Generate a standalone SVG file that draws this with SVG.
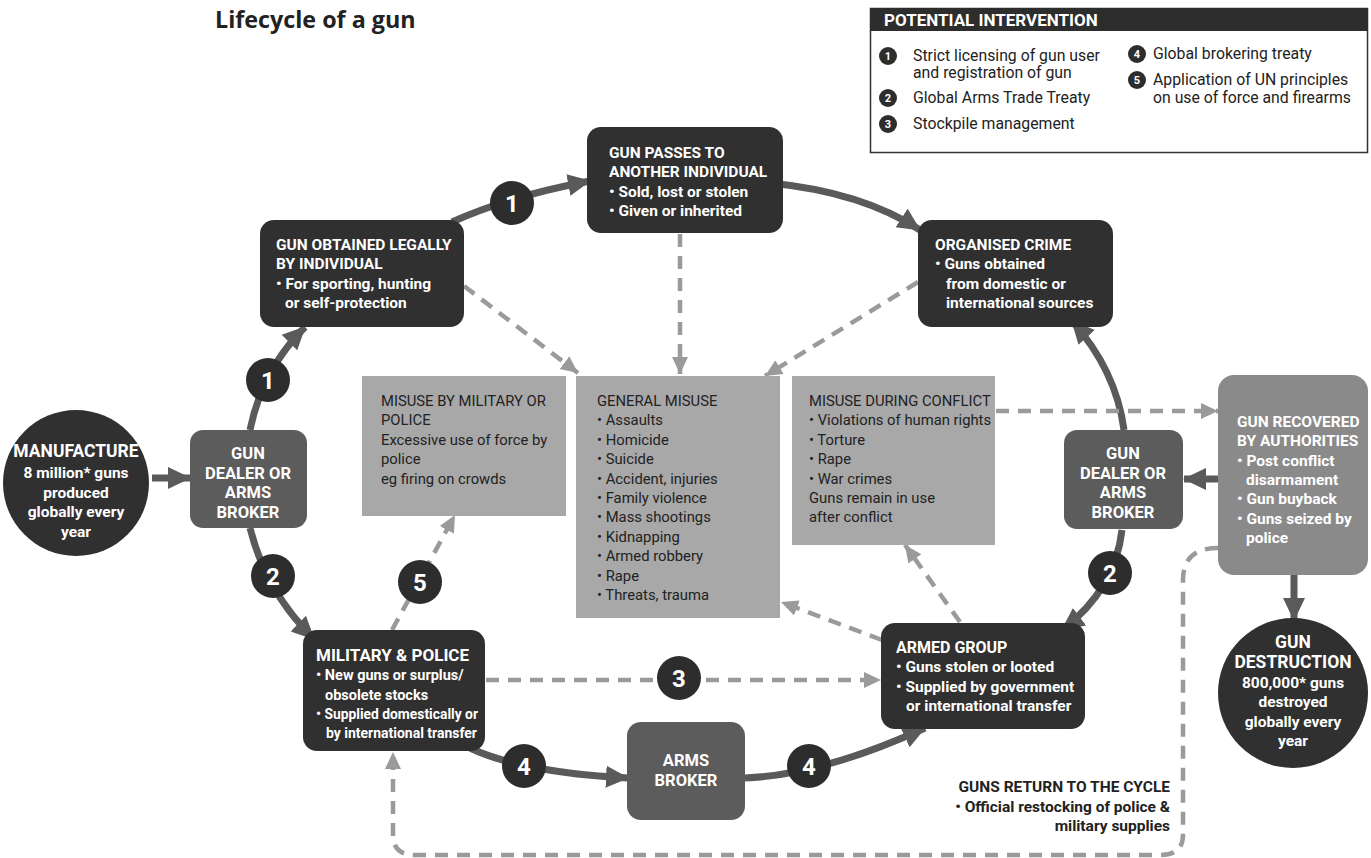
<svg xmlns="http://www.w3.org/2000/svg" width="1371" height="858" viewBox="0 0 1371 858">
<style>
text{font-family:Roboto,"Liberation Sans",sans-serif;}
.t{font-size:15.5px;font-weight:bold;fill:#fff;}
.tc{font-size:15.5px;font-weight:bold;fill:#fff;text-anchor:middle;}
.h{font-size:16.5px;font-weight:bold;fill:#fff;text-anchor:middle;}
.m{font-size:14.8px;fill:#222;}
.dk{fill:#303030;}
.dl{fill:#5c5c5c;}
.lt{fill:#a8a8a8;}
.num{fill:#2d2d2d;}
.nt{font-size:24px;font-weight:bold;fill:#fff;text-anchor:middle;}
.lg{font-size:15.8px;fill:#222;}
.ln{font-size:11px;font-weight:bold;fill:#fff;text-anchor:middle;}
.sol{fill:none;stroke:#5a5a5a;stroke-width:7;marker-end:url(#ah);}
.das{fill:none;stroke:#9a9a9a;stroke-width:4.5;stroke-dasharray:13 9;marker-end:url(#ahd);}
</style>
<defs>
<marker id="ah" markerUnits="userSpaceOnUse" markerWidth="24" markerHeight="24" refX="22" refY="12" orient="auto"><path d="M0,1 L23,12 L0,23 z" fill="#5a5a5a"/></marker>
<marker id="ahd" markerUnits="userSpaceOnUse" markerWidth="18" markerHeight="18" refX="17" refY="9" orient="auto"><path d="M0,1 L17,9 L0,17 z" fill="#9a9a9a"/></marker>
</defs>
<rect width="1371" height="858" fill="#fff"/>
<text x="215" y="28" style="font-family:'Open Sans','Liberation Sans',sans-serif;font-size:23.3px;font-weight:bold;fill:#222">Lifecycle of a gun</text>

<g id="legend">
<rect x="870.5" y="8.5" width="497" height="144" fill="#fff" stroke="#333" stroke-width="1.5"/>
<rect x="870" y="8" width="498" height="23" fill="#2d2d2d"/>
<text x="884" y="26" style="font-size:17px;font-weight:bold;fill:#fff">POTENTIAL INTERVENTION</text>
<circle cx="888" cy="56" r="9" class="num"/><text x="888" y="60" class="ln">1</text>
<text x="913" y="61" class="lg">Strict licensing of gun user</text>
<text x="913" y="78" class="lg">and registration of gun</text>
<circle cx="888" cy="98" r="9" class="num"/><text x="888" y="102" class="ln">2</text>
<text x="913" y="103" class="lg">Global Arms Trade Treaty</text>
<circle cx="888" cy="124" r="9" class="num"/><text x="888" y="128" class="ln">3</text>
<text x="913" y="129" class="lg">Stockpile management</text>
<circle cx="1137" cy="54" r="9" class="num"/><text x="1137" y="58" class="ln">4</text>
<text x="1153" y="59" class="lg">Global brokering treaty</text>
<circle cx="1137" cy="80" r="9" class="num"/><text x="1137" y="84" class="ln">5</text>
<text x="1153" y="85" class="lg">Application of UN principles</text>
<text x="1153" y="103" class="lg">on use of force and firearms</text>
</g>

<g id="connectors">
<path class="sol" d="M250,430 Q262,370 305,327"/>
<path class="sol" d="M452,222 Q510,196 590,181"/>
<path class="sol" d="M770,183 Q862,192 920,230"/>
<path class="sol" d="M1124,430 Q1116,370 1072,321"/>
<path class="sol" d="M1218,479 L1184,479"/>
<path class="sol" d="M1122,530 Q1115,590 1062,630"/>
<path class="sol" d="M250,528 Q266,592 314,639"/>
<path class="sol" d="M470,748 Q520,772 628,778"/>
<path class="sol" d="M745,778 Q822,775 925,728"/>
<path class="sol" d="M152,478 L190,478"/>
<path class="sol" d="M1294,575 L1294,620"/>
<path class="das" d="M464,286 L578,373"/>
<path class="das" d="M680,234 L680,374"/>
<path class="das" d="M918,282 L765,376"/>
<path class="das" d="M392,630 L455,515"/>
<path class="das" d="M486,680 L881,680"/>
<path class="das" d="M882,640 L781,602"/>
<path class="das" d="M960,622 L905,545"/>
<path class="das" d="M996,411 L1218,411"/>
<path class="das" d="M1218,548 Q1183,548 1183,580 L1183,835 Q1183,855 1160,855 L415,855 Q393,855 393,835 L393,752"/>
</g>

<g id="manufacture">
<circle cx="76" cy="483" r="73" class="dk"/>
<text x="76" y="457" class="h" style="font-size:17.5px">MANUFACTURE</text>
<text x="76" y="478" class="tc">8 million* guns</text>
<text x="76" y="498" class="tc">produced</text>
<text x="76" y="517" class="tc">globally every</text>
<text x="76" y="537" class="tc">year</text>
</g>

<g id="dealer-left">
<rect x="190" y="430" width="117" height="98" rx="13" class="dl"/>
<text x="248" y="459" class="h">GUN</text>
<text x="248" y="479" class="h">DEALER OR</text>
<text x="248" y="498" class="h">ARMS</text>
<text x="248" y="518" class="h">BROKER</text>
</g>

<g id="legal-individual">
<rect x="260" y="220" width="204" height="107" rx="14" class="dk"/>
<text x="276" y="250" class="t">GUN OBTAINED LEGALLY</text>
<text x="276" y="269" class="t">BY INDIVIDUAL</text>
<text x="276" y="289" class="t">• For sporting, hunting</text>
<text x="285" y="308" class="t">or self-protection</text>
</g>

<g id="passes">
<rect x="587" y="127" width="196" height="106" rx="14" class="dk"/>
<text x="609" y="158" class="t">GUN PASSES TO</text>
<text x="609" y="177" class="t">ANOTHER INDIVIDUAL</text>
<text x="609" y="197" class="t">• Sold, lost or stolen</text>
<text x="609" y="216" class="t">• Given or inherited</text>
</g>

<g id="organised-crime">
<rect x="918" y="220" width="195" height="107" rx="14" class="dk"/>
<text x="935" y="250" class="t">ORGANISED CRIME</text>
<text x="935" y="269" class="t">• Guns obtained</text>
<text x="946" y="289" class="t">from domestic or</text>
<text x="946" y="308" class="t">international sources</text>
</g>

<g id="misuse-military">
<rect x="362" y="376" width="204" height="140" class="lt"/>
<text x="381" y="406" class="m">MISUSE BY MILITARY OR</text>
<text x="381" y="425" class="m">POLICE</text>
<text x="381" y="445" class="m">Excessive use of force by</text>
<text x="381" y="464" class="m">police</text>
<text x="381" y="484" class="m">eg firing on crowds</text>
</g>

<g id="general-misuse">
<rect x="576" y="376" width="204" height="242" class="lt"/>
<text x="597" y="406" class="m">GENERAL MISUSE</text>
<text x="597" y="425" class="m">• Assaults</text>
<text x="597" y="445" class="m">• Homicide</text>
<text x="597" y="464" class="m">• Suicide</text>
<text x="597" y="484" class="m">• Accident, injuries</text>
<text x="597" y="503" class="m">• Family violence</text>
<text x="597" y="522" class="m">• Mass shootings</text>
<text x="597" y="542" class="m">• Kidnapping</text>
<text x="597" y="561" class="m">• Armed robbery</text>
<text x="597" y="581" class="m">• Rape</text>
<text x="597" y="600" class="m">• Threats, trauma</text>
</g>

<g id="misuse-conflict">
<rect x="792" y="376" width="203" height="169" class="lt"/>
<text x="809" y="406" class="m">MISUSE DURING CONFLICT</text>
<text x="809" y="425" class="m">• Violations of human rights</text>
<text x="809" y="445" class="m">• Torture</text>
<text x="809" y="464" class="m">• Rape</text>
<text x="809" y="484" class="m">• War crimes</text>
<text x="809" y="503" class="m">Guns remain in use</text>
<text x="809" y="522" class="m">after conflict</text>
</g>

<g id="dealer-right">
<rect x="1064" y="430" width="119" height="99" rx="13" class="dl"/>
<text x="1123" y="459" class="h">GUN</text>
<text x="1123" y="479" class="h">DEALER OR</text>
<text x="1123" y="498" class="h">ARMS</text>
<text x="1123" y="518" class="h">BROKER</text>
</g>

<g id="recovered">
<rect x="1218" y="375" width="150" height="200" rx="16" fill="#8a8a8a"/>
<text x="1237" y="427" class="t">GUN RECOVERED</text>
<text x="1237" y="446" class="t">BY AUTHORITIES</text>
<text x="1237" y="466" class="t">• Post conflict</text>
<text x="1246" y="485" class="t">disarmament</text>
<text x="1237" y="504" class="t">• Gun buyback</text>
<text x="1237" y="524" class="t">• Guns seized by</text>
<text x="1246" y="543" class="t">police</text>
</g>

<g id="destruction">
<circle cx="1293" cy="693" r="75" class="dk"/>
<text x="1293" y="648" class="h" style="font-size:17.5px">GUN</text>
<text x="1293" y="668" class="h" style="font-size:17.5px">DESTRUCTION</text>
<text x="1293" y="688" class="tc">800,000* guns</text>
<text x="1293" y="707" class="tc">destroyed</text>
<text x="1293" y="727" class="tc">globally every</text>
<text x="1293" y="746" class="tc">year</text>
</g>

<g id="military-police">
<rect x="303" y="630" width="182" height="121" rx="14" class="dk"/>
<text x="316" y="661" style="font-size:17px;font-weight:bold;fill:#fff">MILITARY &amp; POLICE</text>
<text x="316" y="680" class="t" style="font-size:14.5px">• New guns or surplus/</text>
<text x="325" y="700" class="t" style="font-size:14.5px">obsolete stocks</text>
<text x="316" y="719" class="t" style="font-size:14.5px" textLength="162" lengthAdjust="spacingAndGlyphs">• Supplied domestically or</text>
<text x="326" y="738" class="t" style="font-size:14.5px" textLength="151" lengthAdjust="spacingAndGlyphs">by international transfer</text>
</g>

<g id="armed-group">
<rect x="881" y="623" width="204" height="106" rx="14" class="dk"/>
<text x="896" y="653" class="t" style="font-size:16px">ARMED GROUP</text>
<text x="896" y="672" class="t">• Guns stolen or looted</text>
<text x="896" y="692" class="t">• Supplied by government</text>
<text x="906" y="711" class="t">or international transfer</text>
</g>

<g id="arms-broker">
<rect x="627" y="722" width="118" height="98" rx="14" class="dl"/>
<text x="686" y="766" class="h">ARMS</text>
<text x="686" y="786" class="h">BROKER</text>
</g>

<g id="return-label">
<text x="1170" y="792" style="font-size:15.5px;font-weight:bold;fill:#222;text-anchor:end">GUNS RETURN TO THE CYCLE</text>
<text x="1170" y="812" style="font-size:15.5px;font-weight:bold;fill:#222;text-anchor:end">• Official restocking of police &amp;</text>
<text x="1170" y="831" style="font-size:15.5px;font-weight:bold;fill:#222;text-anchor:end">military supplies</text>
</g>

<g id="markers">
<circle cx="512" cy="203" r="22" class="num"/><text x="512" y="212" class="nt">1</text>
<circle cx="268" cy="380" r="22" class="num"/><text x="268" y="389" class="nt">1</text>
<circle cx="273" cy="576" r="22" class="num"/><text x="273" y="585" class="nt">2</text>
<circle cx="1110" cy="573" r="22" class="num"/><text x="1110" y="582" class="nt">2</text>
<circle cx="679" cy="678" r="22" class="num"/><text x="679" y="687" class="nt">3</text>
<circle cx="524" cy="766" r="22" class="num"/><text x="524" y="775" class="nt">4</text>
<circle cx="809" cy="766" r="22" class="num"/><text x="809" y="775" class="nt">4</text>
<circle cx="420" cy="582" r="22" class="num"/><text x="420" y="591" class="nt">5</text>
</g>
</svg>
